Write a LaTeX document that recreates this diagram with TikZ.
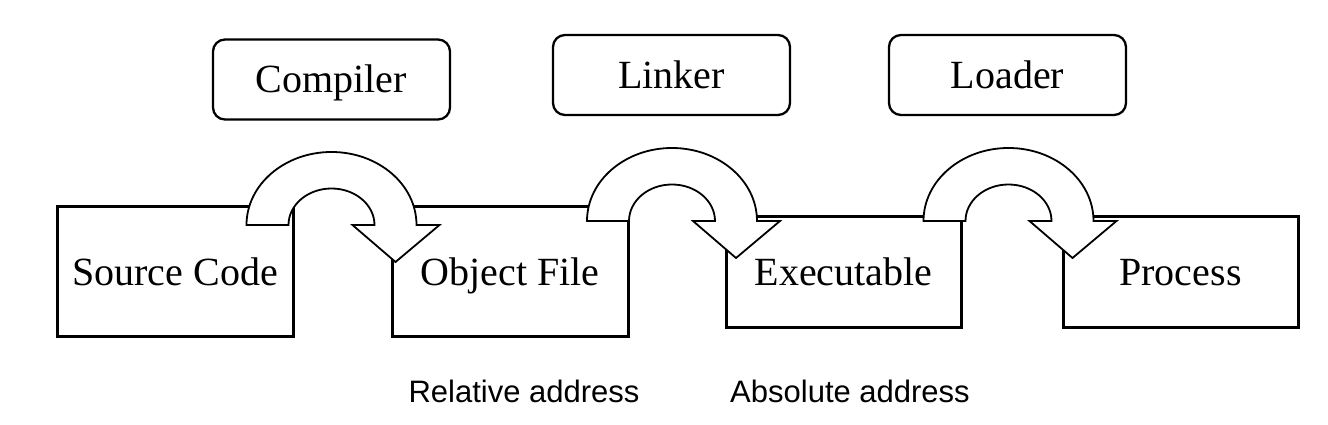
\documentclass[tikz,border=0pt]{standalone}
\usepackage{fontspec}
\setmainfont{Liberation Serif}
\newfontfamily\labelfont{Liberation Sans}
\newcommand\UTurnArrow[2]{%
  \draw[bigarrow] (#1-85,#2) arc[start angle=180,end angle=0,x radius=85pt,y radius=73pt]
    -- (#1+108,#2) -- (#1+64,#2-37) -- (#1+21,#2) -- (#1+43,#2)
    arc[start angle=0,end angle=180,x radius=43pt,y radius=36.5pt] -- cycle;}
\begin{document}
\begin{tikzpicture}[x=1pt,y=1pt,
  toolbox/.style={draw, line width=2.3pt, rounded corners=12pt, minimum width=237pt,
    minimum height=80pt, inner sep=0pt, font=\fontsize{40}{48}\selectfont,
    text height=26.5pt, text depth=0pt},
  filebox/.style={draw, line width=3pt, inner sep=0pt, font=\fontsize{40}{48}\selectfont,
    text height=26.5pt, text depth=0pt},
  addr/.style={font=\labelfont\fontsize{31}{36}\selectfont, anchor=base, inner sep=0pt},
  bigarrow/.style={draw, fill=white, line width=1.8pt, line join=miter}]
\useasboundingbox (0,0) rectangle (1328,425);
\node[toolbox] (compiler) at (331.5,345.5) {Compiler};
\node[toolbox] (linker) at (671.5,350) {Linker};
\node[toolbox] (loader) at (1007.5,350) {Loader};
\node[filebox, minimum width=236pt, minimum height=130pt] (src) at (175,153) {Source Code};
\node[filebox, minimum width=236pt, minimum height=130pt] (obj) at (510,153) {Object File};
\node[filebox, minimum width=235pt, minimum height=111pt] (exe) at (843.5,152.5) {Executable};
\node[filebox, minimum width=235pt, minimum height=111pt] (proc) at (1180.5,152.5) {Process};
\node[addr] (rel) at (524,22) {Relative address};
\node[addr] (abs) at (850,22) {Absolute address};
\UTurnArrow{331.5}{200}
\UTurnArrow{672}{204}
\UTurnArrow{1008.5}{204}
\end{tikzpicture}
\end{document}
